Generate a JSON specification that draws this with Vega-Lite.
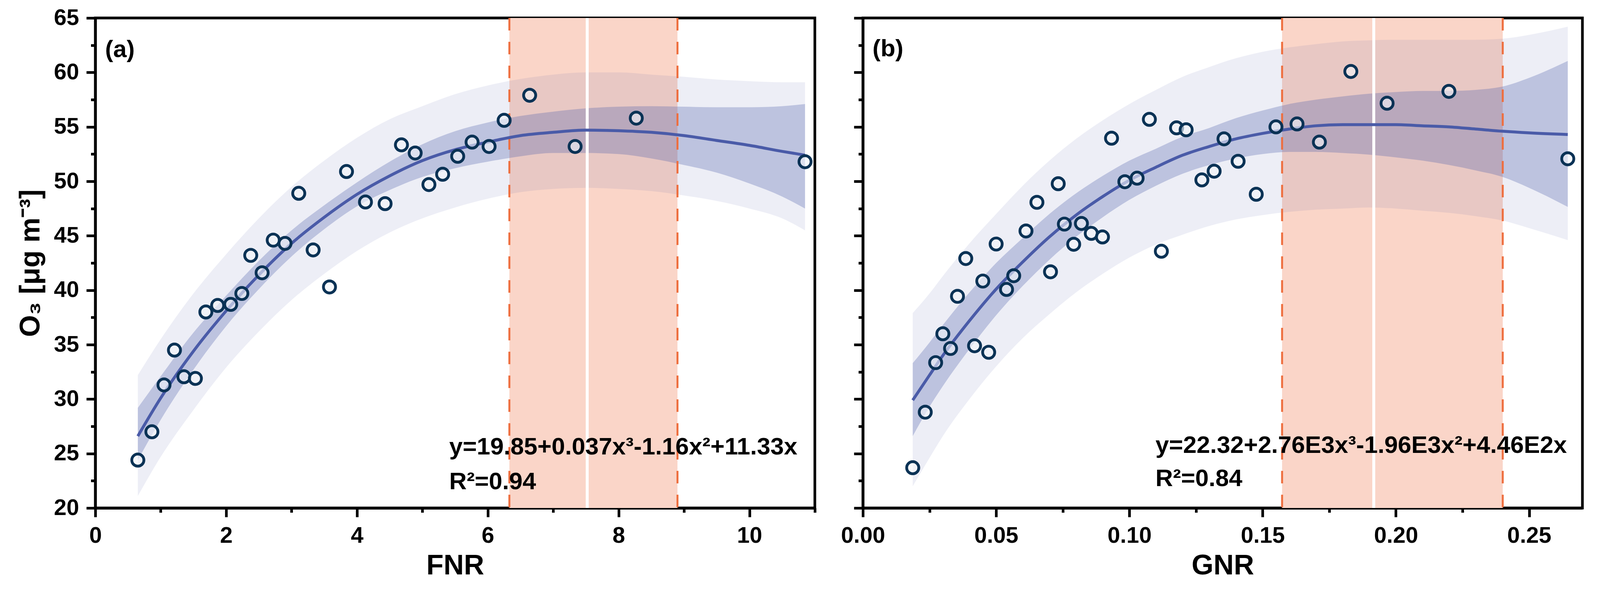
{
  "$schema": "https://vega.github.io/schema/vega-lite/v6.json",
  "description": "O3 versus FNR and GNR with cubic fits, confidence and prediction bands, and the transition zone.",
  "background": "white",
  "padding": {"left": 39, "top": 13, "right": 5, "bottom": 5},
  "spacing": 54,
  "datasets": {
    "ptsA": [
      {"FNR": 0.65, "O3": 24.4}, {"FNR": 0.865, "O3": 27.0}, {"FNR": 1.05, "O3": 31.3},
      {"FNR": 1.21, "O3": 34.5}, {"FNR": 1.355, "O3": 32.05}, {"FNR": 1.53, "O3": 31.9},
      {"FNR": 1.69, "O3": 38.0}, {"FNR": 1.87, "O3": 38.6}, {"FNR": 2.07, "O3": 38.7},
      {"FNR": 2.24, "O3": 39.7}, {"FNR": 2.376, "O3": 43.2}, {"FNR": 2.55, "O3": 41.6},
      {"FNR": 2.72, "O3": 44.6}, {"FNR": 2.9, "O3": 44.3}, {"FNR": 3.11, "O3": 48.9},
      {"FNR": 3.33, "O3": 43.7}, {"FNR": 3.58, "O3": 40.3}, {"FNR": 3.84, "O3": 50.9},
      {"FNR": 4.13, "O3": 48.1}, {"FNR": 4.43, "O3": 47.95}, {"FNR": 4.68, "O3": 53.35},
      {"FNR": 4.89, "O3": 52.6}, {"FNR": 5.1, "O3": 49.7}, {"FNR": 5.31, "O3": 50.65},
      {"FNR": 5.54, "O3": 52.3}, {"FNR": 5.76, "O3": 53.6}, {"FNR": 6.02, "O3": 53.2},
      {"FNR": 6.25, "O3": 55.6}, {"FNR": 6.64, "O3": 57.9}, {"FNR": 7.335, "O3": 53.2},
      {"FNR": 8.27, "O3": 55.8}, {"FNR": 10.85, "O3": 51.8}
    ],
    "fitA": [
      {"FNR": 0.65, "lo2": 21.1, "lo1": 24.4, "fit": 26.6, "hi1": 29.2, "hi2": 32.2},
      {"FNR": 1.0, "lo2": 24.7, "lo1": 28.1, "fit": 30.1, "hi1": 32.1, "hi2": 35.5},
      {"FNR": 1.5, "lo2": 29.0, "lo1": 32.7, "fit": 34.4, "hi1": 36.1, "hi2": 39.7},
      {"FNR": 2.0, "lo2": 32.9, "lo1": 36.7, "fit": 38.1, "hi1": 39.5, "hi2": 43.3},
      {"FNR": 2.5, "lo2": 36.2, "lo1": 40.1, "fit": 41.4, "hi1": 42.7, "hi2": 46.6},
      {"FNR": 3.0, "lo2": 39.1, "lo1": 43.1, "fit": 44.3, "hi1": 45.5, "hi2": 49.5},
      {"FNR": 3.5, "lo2": 41.5, "lo1": 45.6, "fit": 46.7, "hi1": 47.8, "hi2": 51.9},
      {"FNR": 4.0, "lo2": 43.6, "lo1": 47.7, "fit": 48.8, "hi1": 49.9, "hi2": 54.0},
      {"FNR": 4.5, "lo2": 45.3, "lo1": 49.2, "fit": 50.5, "hi1": 51.8, "hi2": 55.7},
      {"FNR": 5.0, "lo2": 46.6, "lo1": 50.4, "fit": 51.9, "hi1": 53.4, "hi2": 56.9},
      {"FNR": 5.5, "lo2": 47.6, "lo1": 51.2, "fit": 52.9, "hi1": 54.6, "hi2": 58.0},
      {"FNR": 6.0, "lo2": 48.4, "lo1": 51.8, "fit": 53.6, "hi1": 55.4, "hi2": 58.8},
      {"FNR": 6.5, "lo2": 49.0, "lo1": 52.3, "fit": 54.2, "hi1": 56.0, "hi2": 59.4},
      {"FNR": 7.0, "lo2": 49.3, "lo1": 52.6, "fit": 54.5, "hi1": 56.4, "hi2": 59.8},
      {"FNR": 7.5, "lo2": 49.4, "lo1": 52.6, "fit": 54.7, "hi1": 56.7, "hi2": 60.0},
      {"FNR": 8.0, "lo2": 49.3, "lo1": 52.5, "fit": 54.65, "hi1": 56.85, "hi2": 60.0},
      {"FNR": 8.5, "lo2": 49.1, "lo1": 52.1, "fit": 54.5, "hi1": 56.9, "hi2": 59.8},
      {"FNR": 9.0, "lo2": 48.7, "lo1": 51.5, "fit": 54.2, "hi1": 56.85, "hi2": 59.6},
      {"FNR": 9.5, "lo2": 48.2, "lo1": 50.8, "fit": 53.75, "hi1": 56.8, "hi2": 59.35},
      {"FNR": 10.0, "lo2": 47.5, "lo1": 49.8, "fit": 53.3, "hi1": 56.8, "hi2": 59.2},
      {"FNR": 10.5, "lo2": 46.6, "lo1": 48.6, "fit": 52.75, "hi1": 56.9, "hi2": 59.1},
      {"FNR": 10.85, "lo2": 45.5, "lo1": 47.5, "fit": 52.4, "hi1": 57.1, "hi2": 59.1}
    ],
    "zoneA": [{"lo": 6.33, "mid": 7.52, "hi": 8.9}],
    "noteA": [
      {"x": 0.15, "y": 61.4, "text": "(a)"},
      {"x": 5.41, "y": 24.93, "text": "y=19.85+0.037x³-1.16x²+11.33x"},
      {"x": 5.41, "y": 21.73, "text": "R²=0.94"}
    ],
    "ptsB": [
      {"GNR": 0.0187, "O3": 23.7}, {"GNR": 0.0234, "O3": 28.8}, {"GNR": 0.0273, "O3": 33.35},
      {"GNR": 0.03, "O3": 36.0}, {"GNR": 0.0329, "O3": 34.65}, {"GNR": 0.0355, "O3": 39.44},
      {"GNR": 0.0386, "O3": 42.91}, {"GNR": 0.0419, "O3": 34.9}, {"GNR": 0.045, "O3": 40.84},
      {"GNR": 0.0472, "O3": 34.3}, {"GNR": 0.05, "O3": 44.24}, {"GNR": 0.0539, "O3": 40.07},
      {"GNR": 0.0566, "O3": 41.33}, {"GNR": 0.0612, "O3": 45.44}, {"GNR": 0.0653, "O3": 48.07},
      {"GNR": 0.0704, "O3": 41.69}, {"GNR": 0.0733, "O3": 49.78}, {"GNR": 0.0756, "O3": 46.07},
      {"GNR": 0.0791, "O3": 44.22}, {"GNR": 0.082, "O3": 46.13}, {"GNR": 0.0857, "O3": 45.22},
      {"GNR": 0.0899, "O3": 44.89}, {"GNR": 0.0933, "O3": 53.96}, {"GNR": 0.0983, "O3": 49.96},
      {"GNR": 0.1029, "O3": 50.29}, {"GNR": 0.1075, "O3": 55.69}, {"GNR": 0.112, "O3": 43.58},
      {"GNR": 0.1177, "O3": 54.91}, {"GNR": 0.1213, "O3": 54.73}, {"GNR": 0.1272, "O3": 50.13},
      {"GNR": 0.1318, "O3": 50.93}, {"GNR": 0.1355, "O3": 53.9}, {"GNR": 0.1408, "O3": 51.84},
      {"GNR": 0.1476, "O3": 48.81}, {"GNR": 0.155, "O3": 55.0}, {"GNR": 0.1629, "O3": 55.27},
      {"GNR": 0.1713, "O3": 53.6}, {"GNR": 0.1831, "O3": 60.09}, {"GNR": 0.1967, "O3": 57.17},
      {"GNR": 0.2199, "O3": 58.26}, {"GNR": 0.2645, "O3": 52.07}
    ],
    "fitB": [
      {"GNR": 0.0187, "lo2": 22.0, "lo1": 26.6, "fit": 29.9, "hi1": 33.3, "hi2": 37.9},
      {"GNR": 0.025, "lo2": 24.6, "lo1": 29.3, "fit": 32.2, "hi1": 35.2, "hi2": 39.7},
      {"GNR": 0.03, "lo2": 26.6, "lo1": 31.2, "fit": 34.0, "hi1": 36.8, "hi2": 41.3},
      {"GNR": 0.04, "lo2": 30.0, "lo1": 34.6, "fit": 37.2, "hi1": 39.8, "hi2": 44.3},
      {"GNR": 0.05, "lo2": 33.0, "lo1": 37.7, "fit": 40.1, "hi1": 42.5, "hi2": 47.0},
      {"GNR": 0.06, "lo2": 35.6, "lo1": 40.4, "fit": 42.6, "hi1": 44.8, "hi2": 49.6},
      {"GNR": 0.07, "lo2": 37.8, "lo1": 42.8, "fit": 44.9, "hi1": 47.0, "hi2": 51.9},
      {"GNR": 0.08, "lo2": 39.8, "lo1": 44.9, "fit": 46.9, "hi1": 48.9, "hi2": 53.9},
      {"GNR": 0.09, "lo2": 41.5, "lo1": 46.7, "fit": 48.6, "hi1": 50.5, "hi2": 55.6},
      {"GNR": 0.1, "lo2": 43.0, "lo1": 48.3, "fit": 50.1, "hi1": 51.9, "hi2": 57.1},
      {"GNR": 0.11, "lo2": 44.2, "lo1": 49.6, "fit": 51.3, "hi1": 53.0, "hi2": 58.4},
      {"GNR": 0.12, "lo2": 45.1, "lo1": 50.7, "fit": 52.4, "hi1": 54.1, "hi2": 59.6},
      {"GNR": 0.13, "lo2": 45.9, "lo1": 51.5, "fit": 53.2, "hi1": 54.9, "hi2": 60.5},
      {"GNR": 0.14, "lo2": 46.5, "lo1": 52.1, "fit": 53.9, "hi1": 55.8, "hi2": 61.3},
      {"GNR": 0.15, "lo2": 46.9, "lo1": 52.5, "fit": 54.4, "hi1": 56.5, "hi2": 61.9},
      {"GNR": 0.16, "lo2": 47.2, "lo1": 52.7, "fit": 54.8, "hi1": 57.1, "hi2": 62.3},
      {"GNR": 0.17, "lo2": 47.4, "lo1": 52.7, "fit": 55.1, "hi1": 57.5, "hi2": 62.6},
      {"GNR": 0.18, "lo2": 47.5, "lo1": 52.6, "fit": 55.2, "hi1": 57.8, "hi2": 62.85},
      {"GNR": 0.19, "lo2": 47.6, "lo1": 52.45, "fit": 55.2, "hi1": 58.05, "hi2": 62.95},
      {"GNR": 0.2, "lo2": 47.5, "lo1": 52.2, "fit": 55.2, "hi1": 58.2, "hi2": 63.0},
      {"GNR": 0.21, "lo2": 47.3, "lo1": 51.9, "fit": 55.1, "hi1": 58.3, "hi2": 63.0},
      {"GNR": 0.22, "lo2": 47.1, "lo1": 51.5, "fit": 55.0, "hi1": 58.3, "hi2": 63.0},
      {"GNR": 0.23, "lo2": 46.8, "lo1": 51.0, "fit": 54.8, "hi1": 58.4, "hi2": 63.0},
      {"GNR": 0.24, "lo2": 46.4, "lo1": 50.4, "fit": 54.6, "hi1": 58.7, "hi2": 63.1},
      {"GNR": 0.25, "lo2": 45.7, "lo1": 49.4, "fit": 54.45, "hi1": 59.5, "hi2": 63.45},
      {"GNR": 0.2645, "lo2": 44.6, "lo1": 47.65, "fit": 54.3, "hi1": 61.05, "hi2": 64.2}
    ],
    "zoneB": [{"lo": 0.1573, "mid": 0.1917, "hi": 0.2401}],
    "noteB": [
      {"x": 0.0036, "y": 61.5, "text": "(b)"},
      {"x": 0.1098, "y": 25.06, "text": "y=22.32+2.76E3x³-1.96E3x²+4.46E2x"},
      {"x": 0.1098, "y": 22.0, "text": "R²=0.84"}
    ]
  },
  "hconcat": [
    {
      "width": 1842,
      "height": 1254,
      "layer": [
        {
          "data": {"name": "zoneA"},
          "mark": {"type": "rect", "color": "#FAD5C8"},
          "encoding": {
            "x": {
              "field": "lo",
              "type": "quantitative",
              "title": "FNR",
              "scale": {"domain": [0, 11], "nice": false, "zero": false},
              "axis": {
                "values": [0, 1, 2, 3, 4, 5, 6, 7, 8, 9, 10, 11],
                "format": "d",
                "labelExpr": "datum.value % 2 === 0 ? datum.label : ''",
                "tickSize": {"condition": {"test": "datum.value % 2 === 0", "value": 23}, "value": 11.5}
              }
            },
            "x2": {"field": "hi"}
          }
        },
        {
          "data": {"name": "fitA"},
          "mark": {"type": "area", "color": "#4A5BA8", "opacity": 0.1, "interpolate": "monotone"},
          "encoding": {
            "x": {"field": "FNR", "type": "quantitative"},
            "y": {
              "field": "lo2",
              "type": "quantitative",
              "title": "O₃ [μg m⁻³]",
              "scale": {"domain": [20, 65], "nice": false, "zero": false},
              "axis": {
                "values": [20, 22.5, 25, 27.5, 30, 32.5, 35, 37.5, 40, 42.5, 45, 47.5, 50, 52.5, 55, 57.5, 60, 62.5, 65],
                "labelExpr": "datum.value % 5 === 0 ? datum.label : ''",
                "tickSize": {"condition": {"test": "datum.value % 5 === 0", "value": 23}, "value": 11.5}
              }
            },
            "y2": {"field": "hi2"}
          }
        },
        {
          "data": {"name": "fitA"},
          "mark": {"type": "area", "color": "#4A5BA8", "opacity": 0.29, "interpolate": "monotone"},
          "encoding": {
            "x": {"field": "FNR", "type": "quantitative"},
            "y": {"field": "lo1", "type": "quantitative"},
            "y2": {"field": "hi1"}
          }
        },
        {
          "data": {"name": "zoneA"},
          "mark": {"type": "rule", "color": "#EE6E3E", "strokeWidth": 5, "strokeDash": [32, 29]},
          "encoding": {"x": {"field": "lo", "type": "quantitative"}}
        },
        {
          "data": {"name": "zoneA"},
          "mark": {"type": "rule", "color": "#EE6E3E", "strokeWidth": 5, "strokeDash": [32, 29]},
          "encoding": {"x": {"field": "hi", "type": "quantitative"}}
        },
        {
          "data": {"name": "zoneA"},
          "mark": {"type": "rule", "color": "white", "strokeWidth": 7.5},
          "encoding": {"x": {"field": "mid", "type": "quantitative"}}
        },
        {
          "data": {"name": "fitA"},
          "mark": {"type": "line", "color": "#4A5BA8", "strokeWidth": 7.5, "interpolate": "monotone"},
          "encoding": {
            "x": {"field": "FNR", "type": "quantitative"},
            "y": {"field": "fit", "type": "quantitative"}
          }
        },
        {
          "data": {"name": "ptsA"},
          "mark": {"type": "point", "shape": "circle", "size": 960, "filled": true, "fill": "#F2F5FA", "fillOpacity": 0.6, "stroke": "#0A3255", "strokeWidth": 7.2, "strokeOpacity": 1, "opacity": 1},
          "encoding": {
            "x": {"field": "FNR", "type": "quantitative"},
            "y": {"field": "O3", "type": "quantitative"}
          }
        },
        {
          "data": {"name": "noteA"},
          "mark": {"type": "text", "align": "left", "baseline": "alphabetic", "font": "Liberation Sans", "fontWeight": "bold", "fontSize": 62, "color": "black"},
          "encoding": {
            "x": {"field": "x", "type": "quantitative"},
            "y": {"field": "y", "type": "quantitative"},
            "text": {"field": "text"}
          }
        }
      ]
    },
    {
      "width": 1842,
      "height": 1254,
      "layer": [
        {
          "data": {"name": "zoneB"},
          "mark": {"type": "rect", "color": "#FAD5C8"},
          "encoding": {
            "x": {
              "field": "lo",
              "type": "quantitative",
              "title": "GNR",
              "scale": {"domain": [0, 0.27], "nice": false, "zero": false},
              "axis": {
                "values": [0, 0.025, 0.05, 0.075, 0.1, 0.125, 0.15, 0.175, 0.2, 0.225, 0.25],
                "format": ".2f",
                "labelExpr": "round(datum.value * 1000) % 50 === 0 ? datum.label : ''",
                "tickSize": {"condition": {"test": "round(datum.value * 1000) % 50 === 0", "value": 23}, "value": 11.5}
              }
            },
            "x2": {"field": "hi"}
          }
        },
        {
          "data": {"name": "fitB"},
          "mark": {"type": "area", "color": "#4A5BA8", "opacity": 0.1, "interpolate": "monotone"},
          "encoding": {
            "x": {"field": "GNR", "type": "quantitative"},
            "y": {
              "field": "lo2",
              "type": "quantitative",
              "title": null,
              "scale": {"domain": [20, 65], "nice": false, "zero": false},
              "axis": {
                "values": [20, 22.5, 25, 27.5, 30, 32.5, 35, 37.5, 40, 42.5, 45, 47.5, 50, 52.5, 55, 57.5, 60, 62.5, 65],
                "labels": false,
                "title": null,
                "tickSize": {"condition": {"test": "datum.value % 5 === 0", "value": 23}, "value": 11.5}
              }
            },
            "y2": {"field": "hi2"}
          }
        },
        {
          "data": {"name": "fitB"},
          "mark": {"type": "area", "color": "#4A5BA8", "opacity": 0.29, "interpolate": "monotone"},
          "encoding": {
            "x": {"field": "GNR", "type": "quantitative"},
            "y": {"field": "lo1", "type": "quantitative"},
            "y2": {"field": "hi1"}
          }
        },
        {
          "data": {"name": "zoneB"},
          "mark": {"type": "rule", "color": "#EE6E3E", "strokeWidth": 5, "strokeDash": [32, 29]},
          "encoding": {"x": {"field": "lo", "type": "quantitative"}}
        },
        {
          "data": {"name": "zoneB"},
          "mark": {"type": "rule", "color": "#EE6E3E", "strokeWidth": 5, "strokeDash": [32, 29]},
          "encoding": {"x": {"field": "hi", "type": "quantitative"}}
        },
        {
          "data": {"name": "zoneB"},
          "mark": {"type": "rule", "color": "white", "strokeWidth": 7.5},
          "encoding": {"x": {"field": "mid", "type": "quantitative"}}
        },
        {
          "data": {"name": "fitB"},
          "mark": {"type": "line", "color": "#4A5BA8", "strokeWidth": 7.5, "interpolate": "monotone"},
          "encoding": {
            "x": {"field": "GNR", "type": "quantitative"},
            "y": {"field": "fit", "type": "quantitative"}
          }
        },
        {
          "data": {"name": "ptsB"},
          "mark": {"type": "point", "shape": "circle", "size": 960, "filled": true, "fill": "#F2F5FA", "fillOpacity": 0.6, "stroke": "#0A3255", "strokeWidth": 7.2, "strokeOpacity": 1, "opacity": 1},
          "encoding": {
            "x": {"field": "GNR", "type": "quantitative"},
            "y": {"field": "O3", "type": "quantitative"}
          }
        },
        {
          "data": {"name": "noteB"},
          "mark": {"type": "text", "align": "left", "baseline": "alphabetic", "font": "Liberation Sans", "fontWeight": "bold", "fontSize": 62, "color": "black"},
          "encoding": {
            "x": {"field": "x", "type": "quantitative"},
            "y": {"field": "y", "type": "quantitative"},
            "text": {"field": "text"}
          }
        }
      ]
    }
  ],
  "config": {
    "font": "Liberation Sans",
    "view": {"stroke": "black", "strokeWidth": 6.8},
    "axis": {
      "grid": false,
      "domainColor": "black",
      "domainWidth": 6.8,
      "tickColor": "black",
      "tickWidth": 6.8,
      "labelFont": "Liberation Sans",
      "labelFontSize": 58,
      "labelFontWeight": "bold",
      "labelColor": "black",
      "labelPadding": 19,
      "labelOverlap": false,
      "labelFlush": false,
      "titleFont": "Liberation Sans",
      "titleFontSize": 72,
      "titleFontWeight": "bold",
      "titleColor": "black"
    },
    "axisY": {"titlePadding": 22},
    "axisX": {"titlePadding": 12}
  }
}
